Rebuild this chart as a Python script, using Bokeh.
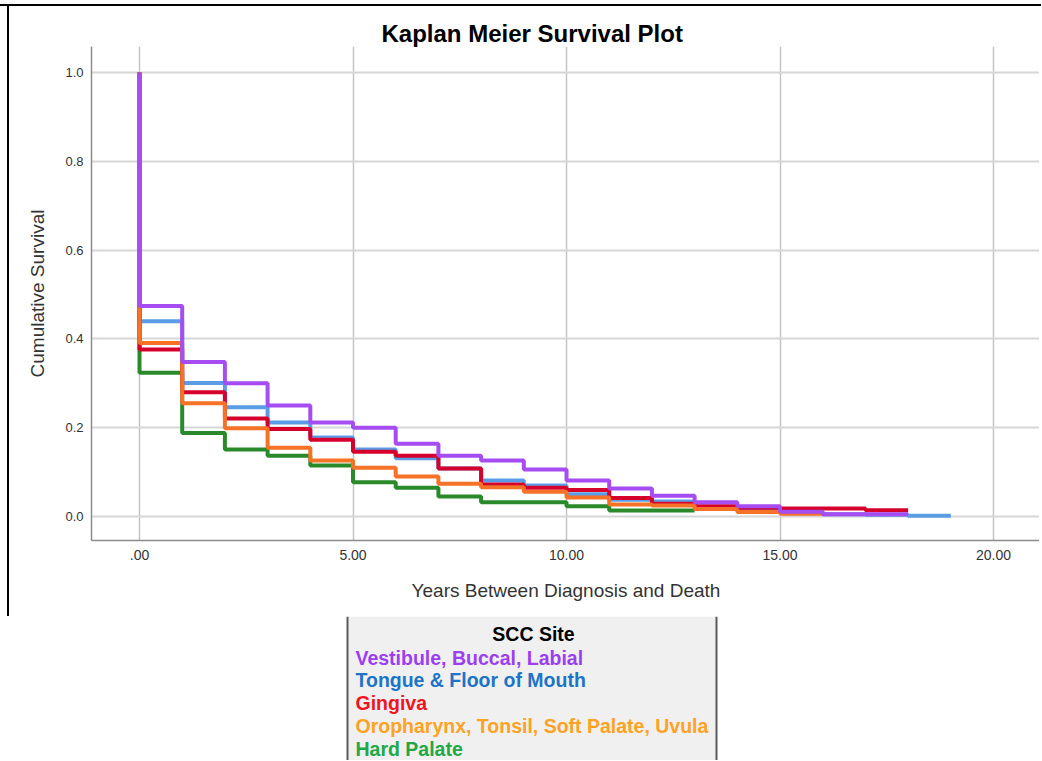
from bokeh.plotting import figure
from bokeh.models import Range1d, FixedTicker, PrintfTickFormatter, ColumnDataSource
from bokeh.layouts import column
from bokeh.core.properties import value
from bokeh.embed import file_html
from bokeh.resources import INLINE

# ---------------- data ----------------
series_names = [
    "Vestibule, Buccal, Labial",
    "Tongue & Floor of Mouth",
    "Gingiva",
    "Oropharynx, Tonsil, Soft Palate, Uvula",
    "Hard Palate",
]
# survival level on each yearly interval [t, t+1) after the initial drop at t=0
vestibule = [0.474, 0.348, 0.300, 0.250, 0.212, 0.200, 0.164, 0.137, 0.126, 0.106,
             0.081, 0.063, 0.047, 0.032, 0.023, 0.011, 0.005, 0.005]
tongue = [0.440, 0.301, 0.246, 0.212, 0.178, 0.151, 0.131, 0.108, 0.081, 0.070,
          0.050, 0.038, 0.034, 0.022, 0.016, 0.010, 0.005, 0.004, 0.002]
gingiva = [0.376, 0.280, 0.221, 0.197, 0.173, 0.146, 0.137, 0.108, 0.072, 0.065,
           0.060, 0.042, 0.029, 0.023, 0.020, 0.018, 0.018, 0.014]
oropharynx = [0.391, 0.255, 0.199, 0.155, 0.126, 0.110, 0.090, 0.074, 0.066, 0.056,
              0.043, 0.027, 0.025, 0.017, 0.010, 0.006]
hard_palate = [0.324, 0.188, 0.151, 0.137, 0.115, 0.077, 0.065, 0.045, 0.032, 0.032,
               0.023, 0.0135, 0.0135]
start_survival = 1.0

x_ticks = [0, 5, 10, 15, 20]
x_tick_labels = [".00", "5.00", "10.00", "15.00", "20.00"]
y_ticks = [0.0, 0.2, 0.4, 0.6, 0.8, 1.0]

line_colors = ["#a54cf2", "#5a9de6", "#d5002c", "#f57226", "#2a8a2a"]
legend_colors = ["#9b3ff0", "#1e74c6", "#f0141e", "#ffa224", "#22a846"]
series_values = [vestibule, tongue, gingiva, oropharynx, hard_palate]

FONT = "Liberation Sans"
BL, BR = 82, 1   # frame borders (shared by both panels, the column aligns them)

# ---------------- main plot ----------------
p = figure(width=1032, height=610,
           x_range=Range1d(-1.124, 21.10), y_range=Range1d(-0.054, 1.0586),
           output_backend="svg", toolbar_location=None,
           min_border_left=BL, min_border_right=BR, min_border_top=40, min_border_bottom=76,
           title="Kaplan Meier Survival Plot")
p.styles = {"border-left": "2px solid #000", "margin-left": "7px"}
p.outline_line_color = None
p.background_fill_color = "white"
p.border_fill_color = "white"

p.title.text_font = FONT
p.title.text_font_size = "24px"
p.title.text_font_style = "bold"
p.title.text_color = "#000000"
p.title.align = "left"
p.title.offset = 290
p.title.standoff = 0

p.xaxis.ticker = FixedTicker(ticks=x_ticks)
p.xaxis.major_label_overrides = {t: l for t, l in zip(x_ticks, x_tick_labels)}
p.yaxis.ticker = FixedTicker(ticks=y_ticks)
p.yaxis.formatter = PrintfTickFormatter(format="%.1f")
p.xgrid.ticker = FixedTicker(ticks=x_ticks)
p.ygrid.ticker = FixedTicker(ticks=y_ticks)

p.xaxis.axis_label = "Years Between Diagnosis and Death"
p.yaxis.axis_label = "Cumulative Survival"
for ax in (p.xaxis, p.yaxis):
    ax.axis_label_text_font = FONT
    ax.axis_label_text_font_size = "19px"
    ax.axis_label_text_font_style = "normal"
    ax.axis_label_text_color = "#333333"
    ax.major_label_text_font = FONT
    ax.major_label_text_color = "#333333"
    ax.major_tick_in = 0
    ax.major_tick_out = 0
    ax.minor_tick_in = 0
    ax.minor_tick_out = 0
    ax.axis_line_color = "#8c8c8c"
    ax.axis_line_width = 1.5
p.xaxis.major_label_text_font_size = "14px"
p.yaxis.major_label_text_font_size = "13px"
p.xaxis.major_label_standoff = 9
p.xaxis.axis_label_standoff = 17
p.yaxis.major_label_standoff = 8
p.yaxis.axis_label_standoff = 14

p.xgrid.grid_line_color = "#c4c4c4"
p.xgrid.grid_line_width = 1.5
p.ygrid.grid_line_color = "#d6d6d6"
p.ygrid.grid_line_width = 2

draw_order = [4, 1, 2, 3, 0]
for i in draw_order:
    vals = series_values[i]
    xs = [0] + list(range(len(vals) + 1))
    ys = [start_survival] + vals + [vals[-1]]
    p.step(xs, ys, mode="after", line_color=line_colors[i], line_width=4)

# ---------------- legend panel (data units = page pixels) ----------------
LW, LH = 1041, 144
lg = figure(width=LW, height=LH, x_range=Range1d(BL, LW - BR), y_range=Range1d(LH, 0),
            output_backend="svg", toolbar_location=None,
            x_axis_location=None, y_axis_location=None,
            min_border_left=BL, min_border_right=BR,
            min_border_top=0, min_border_bottom=0)
lg.grid.visible = False
lg.outline_line_color = None
lg.background_fill_color = "white"
lg.border_fill_color = "white"

lg.quad(left=[347], right=[716], top=[0], bottom=[LH + 5], fill_color="#f0f0f0", line_color=None)
lg.segment(x0=[347, 716], y0=[0, 0], x1=[347, 716], y1=[LH + 5, LH + 5],
           line_color="#5a5a5a", line_width=2)
lg.text(x=[533], y=[17], text=["SCC Site"], text_align="center", text_baseline="middle",
        text_font=value(FONT), text_font_style="bold", text_font_size="19.5px",
        text_color="#000000")
src = ColumnDataSource(dict(
    x=[355] * len(series_names),
    y=[41 + 22.8 * k for k in range(len(series_names))],
    t=series_names,
    c=legend_colors,
))
lg.text(x="x", y="y", text="t", text_color="c", source=src,
        text_align="left", text_baseline="middle",
        text_font=value(FONT), text_font_style="bold", text_font_size="19.5px")

layout = column(p, lg, spacing=0,
                styles={"border-top": "2px solid #000", "margin-top": "4px"})
open("out.html", "w").write(file_html(layout, INLINE))
